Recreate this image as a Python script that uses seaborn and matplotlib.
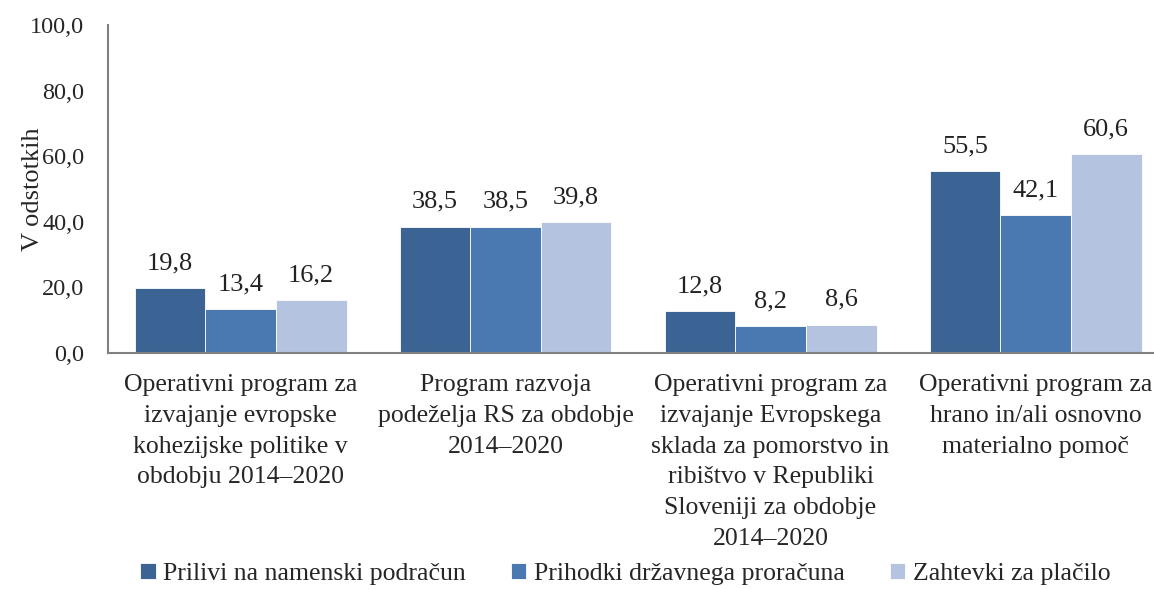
import numpy as np
import matplotlib.pyplot as plt
import seaborn as sns
import pandas as pd

# Podatki
kategorije = [
    "Operativni program za\nizvajanje evropske\nkohezijske politike v\nobdobju 2014–2020",
    "Program razvoja\npodeželja RS za obdobje\n2014–2020",
    "Operativni program za\nizvajanje Evropskega\nsklada za pomorstvo in\nribištvo v Republiki\nSloveniji za obdobje\n2014–2020",
    "Operativni program za\nhrano in/ali osnovno\nmaterialno pomoč",
]
serije = ["Prilivi na namenski podračun", "Prihodki državnega proračuna", "Zahtevki za plačilo"]
prilivi = [19.8, 38.5, 12.8, 55.5]
prihodki = [13.4, 38.5, 8.2, 42.1]
zahtevki = [16.2, 39.8, 8.6, 60.6]
barve = ["#3B6494", "#4A78B1", "#B4C3DF"]

df = pd.DataFrame({
    "kategorija": kategorije * 3,
    "serija": [serije[0]] * 4 + [serije[1]] * 4 + [serije[2]] * 4,
    "vrednost": prilivi + prihodki + zahtevki,
})

sns.set_style("white")
plt.rcParams['font.family'] = ['Liberation Serif', 'DejaVu Serif']

fig = plt.figure(figsize=(11.54, 5.89), dpi=100)
ax = fig.add_axes([108 / 1154, 236 / 589, 1046 / 1154, 328 / 589])

sns.barplot(data=df, x="kategorija", y="vrednost", hue="serija", palette=barve,
            width=0.8, edgecolor="white", linewidth=0.6, saturation=1, ax=ax)

for cont in ax.containers:
    ax.bar_label(cont, labels=[f"{v:.1f}".replace(".", ",") for v in cont.datavalues],
                 padding=10, fontsize=19, color="#222222")

ax.set_ylim(0, 100)
ax.set_xlim(-0.5, -0.5 + 1046 / 265)
ax.set_yticks(np.arange(0, 101, 20))
ax.set_yticklabels([f"{v:.1f}".replace(".", ",") for v in np.arange(0, 101, 20)], fontsize=17.5)
ax.tick_params(axis="x", labelsize=18.5, length=0, pad=15)
ax.tick_params(axis="y", length=0, pad=17)
for lbl in ax.get_xticklabels():
    lbl.set_linespacing(1.52)
ax.set_xlabel("")
ax.set_ylabel("V odstotkih", fontsize=19)
ax.yaxis.set_label_coords(-0.061, 0.5)
for s in ["top", "right"]:
    ax.spines[s].set_visible(False)
for s in ["left", "bottom"]:
    ax.spines[s].set_color("#808080")
    ax.spines[s].set_linewidth(1.5)

h, l = ax.get_legend_handles_labels()
ax.get_legend().remove()
fig.legend(h, l, loc="center", bbox_to_anchor=(0.542, 1 - 574 / 589), ncol=3, frameon=False,
           fontsize=18.5, handlelength=0.6, handleheight=0.6, handletextpad=0.3,
           columnspacing=1.75, borderpad=0.1)

fig.savefig("out.png", dpi=100)
